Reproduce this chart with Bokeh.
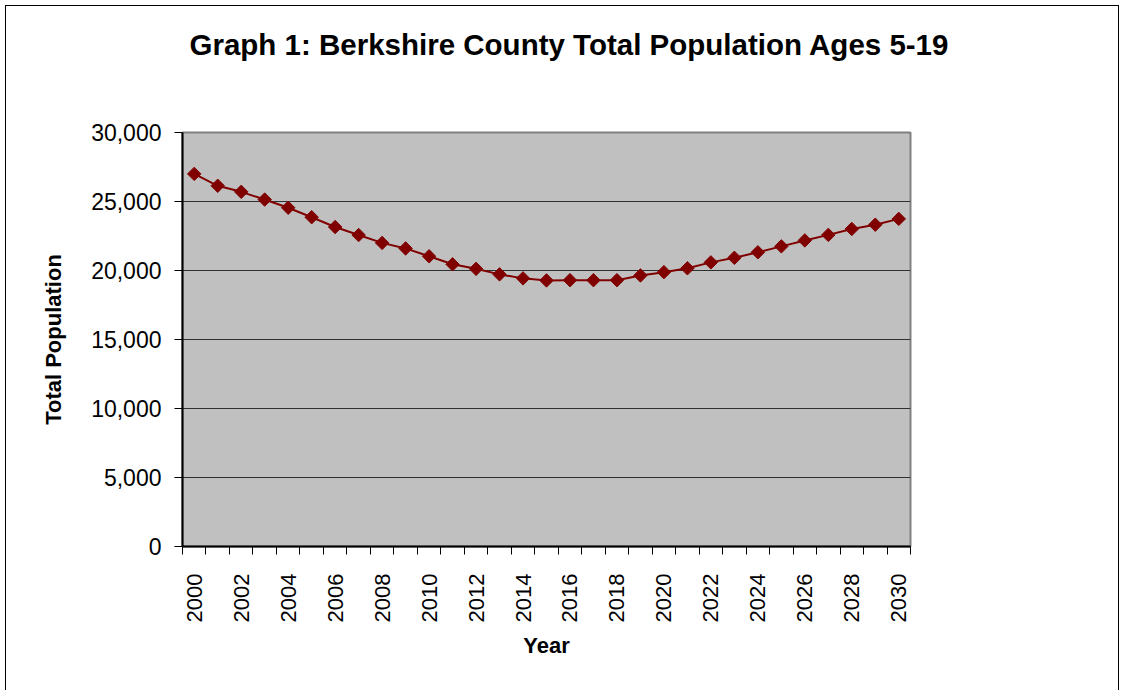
import math
from bokeh.plotting import figure
from bokeh.models import Range1d, FixedTicker, NumeralTickFormatter, Title
from bokeh.embed import file_html
from bokeh.resources import INLINE

years = list(range(2000, 2031))
population = [27000, 26140, 25700, 25140, 24550, 23860, 23150, 22570, 22000, 21600,
              21030, 20450, 20120, 19720, 19430, 19280, 19300, 19300, 19300, 19640,
              19880, 20160, 20590, 20920, 21320, 21750, 22180, 22580, 23010, 23320,
              23740]
y_ticks = [0, 5000, 10000, 15000, 20000, 25000, 30000]
label_years = [y for y in years if y % 2 == 0]
title_text = "Graph 1: Berkshire County Total Population Ages 5-19"

FONT = "Liberation Sans"

idx = list(range(len(years)))

p = figure(frame_width=728, frame_height=414,
           min_border_left=176, min_border_right=208,
           min_border_top=126, min_border_bottom=144,
           x_range=Range1d(-0.5, len(years) - 0.5),
           y_range=Range1d(0, 30000),
           output_backend="svg", toolbar_location=None,
           background_fill_color="#C0C0C0", border_fill_color="white",
           outline_line_color="#808080", outline_line_width=2)
p.styles = {"margin-left": "5px", "margin-top": "5px",
            "border-left": "1px solid black", "border-top": "1px solid black",
            "border-right": "1px solid black"}

# spacer panel between the frame and the title
p.add_layout(Title(text=" ", text_font_size="1px", standoff=69), "above")
p.add_layout(Title(text=title_text, text_font=FONT, text_font_size="29.5px",
                   text_font_style="bold", text_color="black",
                   align="left", offset=7, standoff=0), "above")

p.line(idx, population, line_color="#800000", line_width=2)
p.scatter(idx, population, marker="square", size=9.5, angle=math.pi / 4,
          fill_color="#800000", line_color="#800000")

# x axis
xa = p.xaxis[0]
xa.ticker = FixedTicker(ticks=[years.index(y) for y in label_years],
                        minor_ticks=[i - 0.5 for i in range(len(years) + 1)])
xa.major_label_overrides = {years.index(y): str(y) for y in label_years}
xa.major_label_orientation = math.pi / 2
xa.major_tick_out = 0
xa.major_tick_in = 0
xa.minor_tick_out = 8
xa.minor_tick_in = 0
xa.minor_tick_line_color = "black"
xa.major_label_standoff = 19
xa.major_label_text_font = FONT
xa.major_label_text_font_size = "22px"
xa.major_label_text_color = "black"
xa.axis_line_color = "black"
xa.axis_line_width = 2
xa.axis_label = "Year"
xa.axis_label_text_font = FONT
xa.axis_label_text_font_size = "22px"
xa.axis_label_text_font_style = "bold"
xa.axis_label_text_color = "black"
xa.axis_label_standoff = 8

# y axis
ya = p.yaxis[0]
ya.ticker = FixedTicker(ticks=y_ticks, minor_ticks=[])
ya.formatter = NumeralTickFormatter(format="0,0")
ya.major_tick_out = 8
ya.major_tick_in = 0
ya.major_tick_line_color = "black"
ya.minor_tick_line_color = None
ya.major_label_standoff = 13
ya.major_label_text_font = FONT
ya.major_label_text_font_size = "23px"
ya.major_label_text_color = "black"
ya.axis_line_color = "black"
ya.axis_line_width = 2
ya.axis_label = "Total Population"
ya.axis_label_text_font = FONT
ya.axis_label_text_font_size = "22px"
ya.axis_label_text_font_style = "bold"
ya.axis_label_text_color = "black"
ya.axis_label_standoff = 22

p.xgrid.grid_line_color = None
p.ygrid.ticker = FixedTicker(ticks=y_ticks)
p.ygrid.grid_line_color = "#303030"
p.ygrid.grid_line_width = 1

open("out.html", "w").write(file_html(p, INLINE))
